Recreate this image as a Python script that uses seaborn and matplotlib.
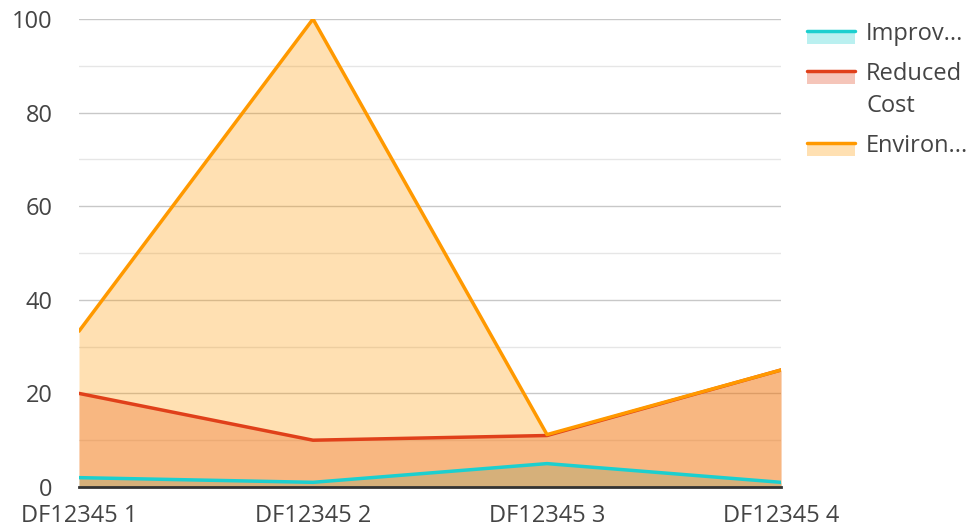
import seaborn as sns
import matplotlib.pyplot as plt
import pandas as pd
import numpy as np
from matplotlib.patches import Rectangle
from matplotlib.lines import Line2D

# ---------------------------
# Data
# ---------------------------
categories = ["DF12345 1", "DF12345 2", "DF12345 3", "DF12345 4"]
improv = [2, 1, 5, 1]
reduced_cost = [20, 10, 11, 25]
environ = [33.3, 100, 11.2, 25]

series_names = ["Improv...", "Reduced\nCost", "Environ..."]
series_values = [improv, reduced_cost, environ]
colors = ["#1CCFCF", "#E0401A", "#FF9900"]

rows = []
for name, vals in zip(series_names, series_values):
    for i, v in enumerate(vals):
        rows.append({"series": name, "pos": i, "value": v})
df = pd.DataFrame(rows)

# ---------------------------
# Visualization
# ---------------------------
sns.set_style("white")
plt.rcParams["font.family"] = ["Open Sans", "DejaVu Sans"]
text_color = "#444444"
W, H = 975, 528

fig = plt.figure(figsize=(W / 100, H / 100), dpi=100)
ax = fig.add_axes([79 / W, 1 - 487 / H, (781 - 79) / W, (487 - 19) / H])

# fills first, then lines on top
for name, c in zip(series_names, colors):
    sub = df[df["series"] == name]
    ax.fill_between(sub["pos"], 0, sub["value"], color=c, alpha=0.3, linewidth=0, zorder=2)

sns.lineplot(data=df, x="pos", y="value", hue="series", palette=colors,
             hue_order=series_names, linewidth=2.5, legend=False, ax=ax, zorder=3)

ax.set_xlim(0, 3)
ax.set_ylim(0, 100)
ax.set_xticks(range(len(categories)))
ax.set_xticklabels(categories)
ax.set_yticks(np.arange(0, 101, 20))
ax.set_yticks(np.arange(10, 100, 20), minor=True)
ax.grid(axis="y", which="major", color="#C8C8C8", linewidth=1, zorder=0)
ax.grid(axis="y", which="minor", color="#E6E6E6", linewidth=1, zorder=0)
ax.set_axisbelow(True)
ax.set_xlabel("")
ax.set_ylabel("")
ax.tick_params(axis="both", which="both", length=0, labelsize=17, colors=text_color)
ax.tick_params(axis="y", pad=19)
ax.tick_params(axis="x", pad=12)
for s in ["top", "right", "left"]:
    ax.spines[s].set_visible(False)
ax.spines["bottom"].set_color("#333333")
ax.spines["bottom"].set_linewidth(2)
ax.spines["bottom"].set_zorder(4)

# ---------------------------
# Legend (drawn by hand so the swatch sits by the first line of text)
# ---------------------------
legend_rows = [31, 71, 143]  # pixel y of each swatch line
for name, c, y in zip(series_names, colors, legend_rows):
    fig.patches.append(Rectangle((807 / W, 1 - (y + 13) / H), 48 / W, 12 / H,
                                 facecolor=c, alpha=0.3, edgecolor="none",
                                 transform=fig.transFigure, figure=fig))
    fig.lines.append(Line2D([807 / W, 855 / W], [1 - y / H, 1 - y / H],
                            color=c, linewidth=2.5,
                            transform=fig.transFigure, figure=fig))
    fig.text(866 / W, 1 - (y - 9) / H, name, ha="left", va="top",
             fontsize=17, color=text_color, linespacing=1.45)

plt.savefig("out.png", dpi=100)
plt.close()
